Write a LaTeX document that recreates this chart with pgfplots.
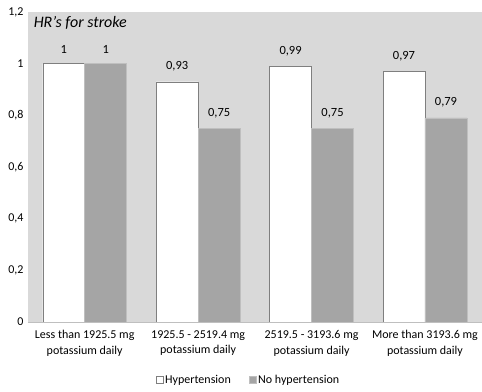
\documentclass[border=0pt]{standalone}
\usepackage{pgfplots}
\pgfplotsset{compat=1.18}
\usepackage{fontspec}
\setmainfont{Carlito}
\definecolor{bgc}{HTML}{D9D9D9}
\definecolor{barg}{HTML}{A5A5A5}
\definecolor{edgew}{HTML}{7F7F7F}
\definecolor{edgeg}{HTML}{BFBFBF}
\begin{document}
\begin{tikzpicture}
\path (0pt,0pt) rectangle (482pt,392pt);
\begin{axis}[
  at={(28pt,70pt)}, anchor=south west,
  scale only axis, width=454pt, height=310pt,
  ymin=0, ymax=1.2, ytick={0,0.2,0.4,0.6,0.8,1,1.2},
  xmin=-0.5, xmax=3.5,
  xtick={0,1,2,3},
  xticklabels={Less than 1925.5 mg\\potassium daily, 1925.5 - 2519.4 mg\\potassium daily, 2519.5 - 3193.6 mg\\potassium daily, More than 3193.6 mg\\potassium daily},
  xticklabel style={align=center, font=\fontsize{12}{15.5}\selectfont, yshift=-1pt},
  yticklabel style={font=\fontsize{12}{14}\selectfont, xshift=-1pt},
  /pgf/number format/use comma,
  /pgf/number format/assume math mode=true,
  yticklabel={\pgfmathprintnumber[use comma]{\tick}},
  axis line style={draw=none},
  axis x line*=bottom,
  axis y line*=left,
  tick style={draw=none},
  axis background/.style={fill=bgc},
  ybar=0pt, bar width=42pt,
  nodes near coords={\fontsize{12.5}{14}\selectfont\pgfmathprintnumber[use comma]{\pgfplotspointmeta}},
  every node near coord/.append style={yshift=7pt, text=black},
  legend style={at={(0.486,-0.187)}, anchor=center, draw=none, fill=none, legend columns=2, font=\fontsize{12}{14}\selectfont, /tikz/every even column/.append style={column sep=16pt}},
  legend image code/.code={\draw[#1] (0pt,-3.5pt) rectangle (7pt,3.5pt);},
  clip=false,
]
\addplot[fill=white, draw=edgew] coordinates {(0,1) (1,0.93) (2,0.99) (3,0.97)};
\addplot[fill=barg, draw=edgeg] coordinates {(0,1) (1,0.75) (2,0.75) (3,0.79)};
\legend{Hypertension, No hypertension}
\draw[edgeg, line width=0.6pt] (rel axis cs:0,0) -- (rel axis cs:1,0);
\node[anchor=west, font=\fontsize{16}{18}\selectfont\itshape] at (rel axis cs:0.005,0.966) {HR's for stroke};
\end{axis}
\end{tikzpicture}
\end{document}
